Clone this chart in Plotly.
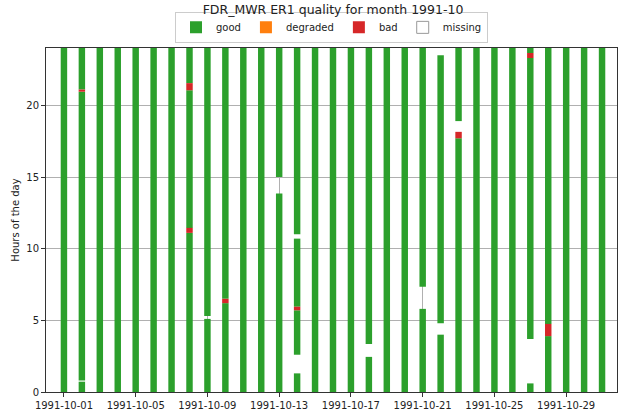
import plotly.graph_objects as go

# ---- data ----
month = "1991-10"
days = list(range(1, 32))
day_start_hour = 0.0
day_end_hour = 24.0

# (day, start hour, end hour)
bad_segments = [
    (2, 20.95, 21.1),
    (8, 11.1, 11.45),
    (8, 21.05, 21.55),
    (10, 6.2, 6.5),
    (14, 5.7, 5.95),
    (23, 17.7, 18.15),
    (27, 23.3, 23.65),
    (28, 3.9, 4.75),
]
degraded_segments = []
missing_segments = [
    (2, 0.72, 0.8),
    (9, 5.1, 5.3),
    (13, 13.85, 15.0),
    (14, 1.3, 2.6),
    (14, 10.7, 11.0),
    (18, 2.45, 3.35),
    (21, 5.8, 7.35),
    (22, 4.0, 4.8),
    (22, 23.5, 24.0),
    (23, 18.15, 18.9),
    (27, 0.6, 3.7),
]

colors = {"good": "#2ca02c", "degraded": "#ff7f0e", "bad": "#d62728"}
bar_width_ms = 0.36 * 86400000


def date_of(d):
    return f"{month}-{d:02d}"


# good = whatever is not flagged in each day
good_segments = []
for d in days:
    cuts = sorted([(s, e) for (dd, s, e) in bad_segments + degraded_segments + missing_segments if dd == d])
    cur = day_start_hour
    for s, e in cuts:
        if s > cur:
            good_segments.append((d, cur, s))
        cur = max(cur, e)
    if cur < day_end_hour:
        good_segments.append((d, cur, day_end_hour))


def seg_trace(name, segs, color):
    if segs:
        x = [date_of(d) for d, s, e in segs]
        y = [e - s for d, s, e in segs]
        b = [s for d, s, e in segs]
    else:
        x, y, b = [None], [None], [None]
    return go.Bar(name=name, x=x, y=y, base=b, width=bar_width_ms,
                  marker=dict(color=color, line=dict(width=0)))


fig = go.Figure()
fig.add_trace(seg_trace("good", good_segments, colors["good"]))
fig.add_trace(seg_trace("degraded", degraded_segments, colors["degraded"]))
fig.add_trace(seg_trace("bad", bad_segments, colors["bad"]))
fig.add_trace(go.Bar(name="missing", x=[None], y=[None], base=[None],
                     marker=dict(color="white", line=dict(color="#999999", width=1))))

fig.update_layout(
    width=619, height=412,
    margin=dict(l=46, r=2, t=48, b=20, autoexpand=False),
    plot_bgcolor="white", paper_bgcolor="white",
    barmode="overlay",
    font=dict(family="DejaVu Sans", size=10, color="#222222"),
    title=dict(text="FDR_MWR ER1 quality for month 1991-10", xref="container", x=0.538,
               xanchor="center", y=0.976, yanchor="middle",
               font=dict(size=12.5, color="#222222")),
    legend=dict(orientation="h", x=0.5, xanchor="center", y=1.06, yanchor="middle",
                bordercolor="#cccccc", borderwidth=1, font=dict(size=10),
                itemwidth=30, traceorder="normal", bgcolor="rgba(255,255,255,0)"),
    xaxis=dict(type="date", range=["1991-09-30", "1991-10-31 20:00"],
               tick0="1991-10-01", dtick=4 * 86400000, tickformat="%Y-%m-%d",
               showgrid=True, gridcolor="#b0b0b0", gridwidth=0.8,
               showline=True, linecolor="#333333", mirror=True,
               ticks="outside", ticklen=4, tickcolor="#333333", automargin=False),
    yaxis=dict(range=[0, 24], tickvals=[0, 5, 10, 15, 20],
               showgrid=True, gridcolor="#b0b0b0", gridwidth=0.8,
               showline=True, linecolor="#333333", mirror=True,
               ticks="outside", ticklen=4, tickcolor="#333333", automargin=False,
               title=dict(text="Hours of the day", standoff=4, font=dict(size=10)),
               zeroline=False),
)

fig.write_html("out.html", config={"displayModeBar": False},
               post_script="document.body.style.margin='0';document.body.style.overflow='hidden';")
